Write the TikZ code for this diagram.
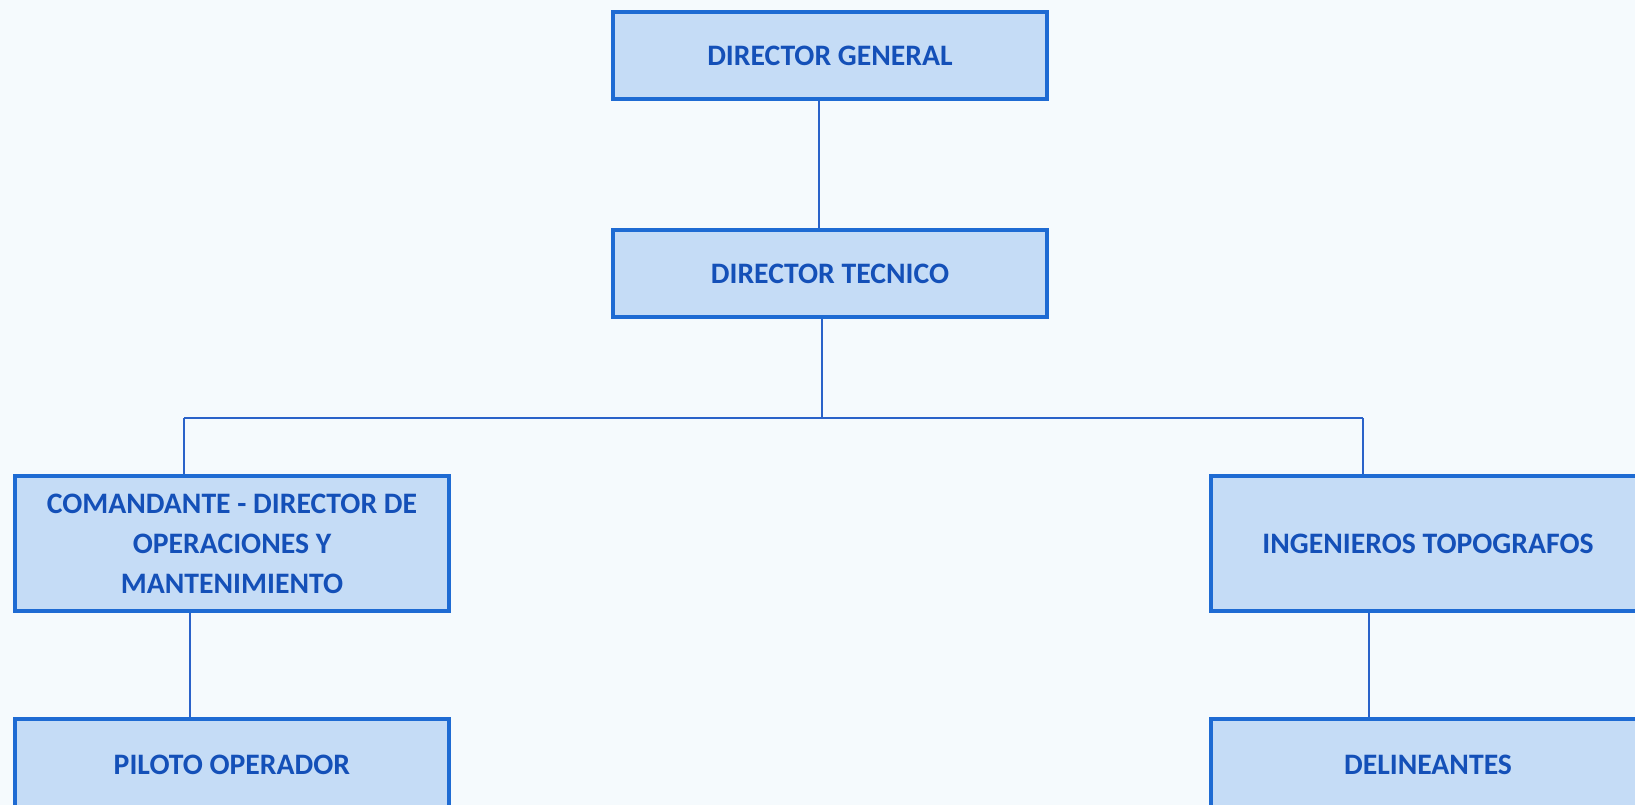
\documentclass[tikz,border=0pt]{standalone}
\usepackage{fontspec}
\setmainfont{Carlito}
\definecolor{bgc}{HTML}{F5FAFD}
\definecolor{boxfill}{HTML}{C5DCF6}
\definecolor{boxline}{HTML}{1E6BD3}
\definecolor{txt}{HTML}{1450B8}
\definecolor{conn}{HTML}{2A62C9}
\begin{document}
\begin{tikzpicture}[x=1pt,y=-1pt,
  orgbox/.style={draw=boxline, line width=4pt, fill=boxfill, text=txt,
    font=\fontsize{29.7}{40}\selectfont\bfseries, align=center,
    minimum width=434pt, inner sep=0pt, anchor=center},
  link/.style={draw=conn, line width=2pt}]
\useasboundingbox (0,0) rectangle (1635,805);
\clip (0,0) rectangle (1635,805);
\fill[bgc] (0,0) rectangle (1635,805);
\node[orgbox, minimum height=87pt] (dg) at (830,55.5) {DIRECTOR GENERAL};
\node[orgbox, minimum height=87pt] (dt) at (830,273.5) {DIRECTOR TECNICO};
\node[orgbox, minimum height=135pt] (com) at (232,543.5) {COMANDANTE - DIRECTOR DE\\OPERACIONES Y\\MANTENIMIENTO};
\node[orgbox, minimum height=92pt] (pil) at (232,765) {PILOTO OPERADOR};
\node[orgbox, minimum height=135pt] (ing) at (1428,543.5) {INGENIEROS TOPOGRAFOS};
\node[orgbox, minimum height=92pt] (del) at (1428,765) {DELINEANTES};
\coordinate (busM) at (822,418);
\coordinate (busL) at (184,418);
\coordinate (busR) at (1363,418);
\coordinate (dgx) at (819,0);
\coordinate (comx) at (190,0);
\coordinate (ingx) at (1369,0);
\draw[link] (dg.south -| dgx) -- (dt.north -| dgx);
\draw[link] (dt.south -| busM) -- (busM);
\draw[link] (busL) -- (busR);
\draw[link] (busL) -- (busL |- com.north);
\draw[link] (busR) -- (busR |- ing.north);
\draw[link] (com.south -| comx) -- (pil.north -| comx);
\draw[link] (ing.south -| ingx) -- (del.north -| ingx);
\end{tikzpicture}
\end{document}
